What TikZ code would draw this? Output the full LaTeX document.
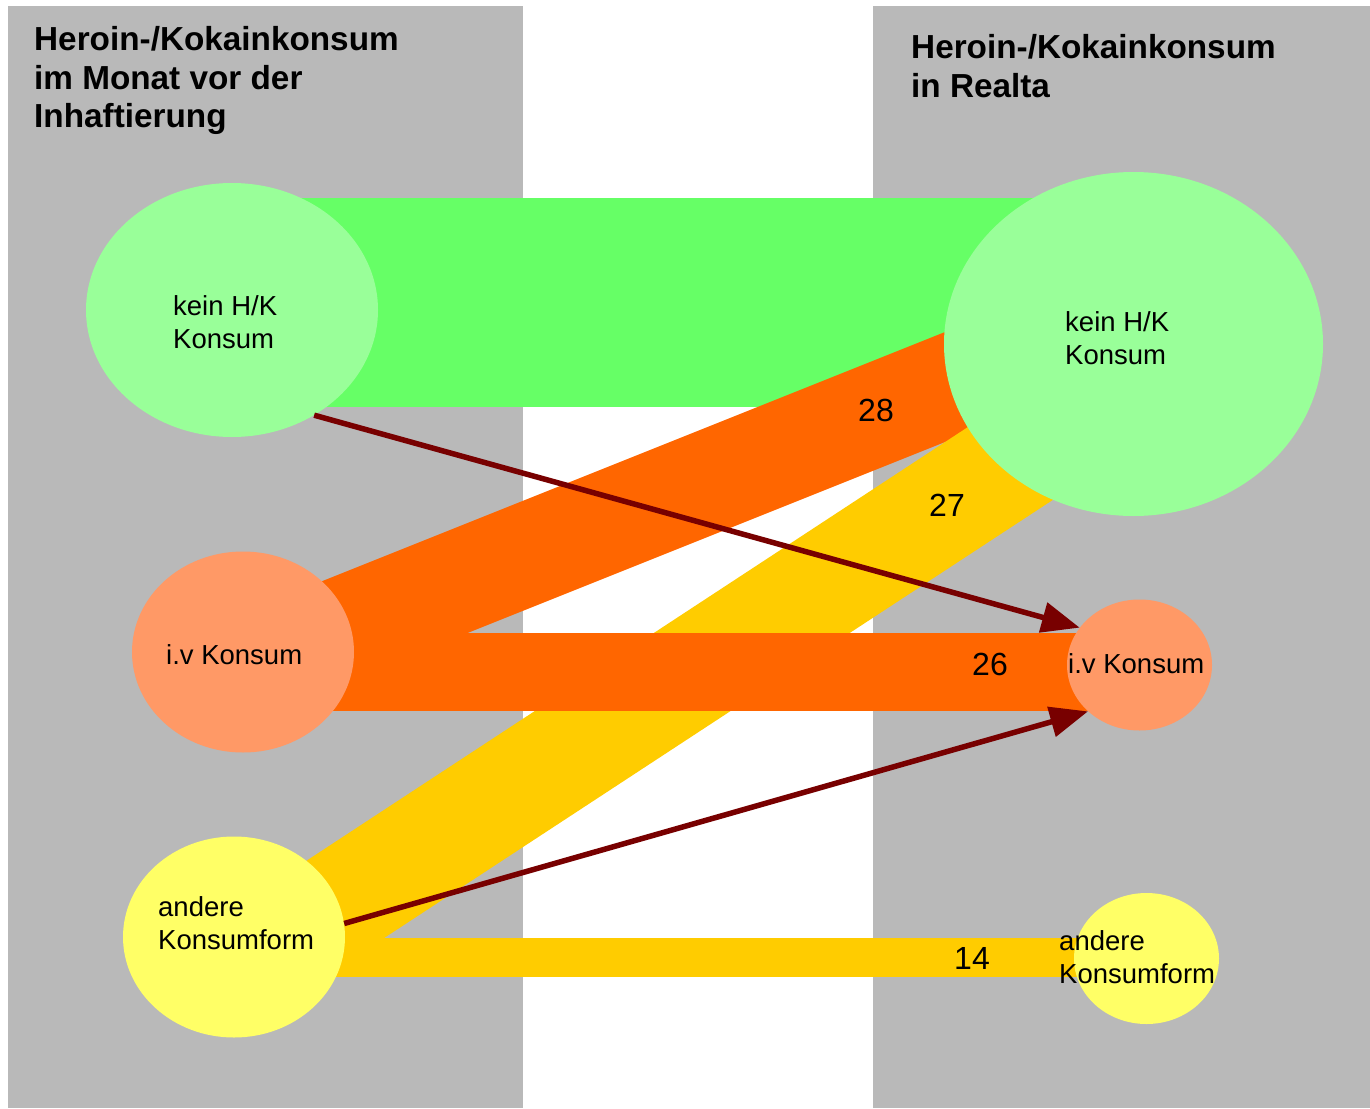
\documentclass[tikz,border=0pt]{standalone}
\usepackage{fontspec}
\setmainfont{Liberation Sans}
\usetikzlibrary{shapes.geometric,arrows.meta}
\definecolor{panelgray}{HTML}{B9B9B9}
\definecolor{ellgreen}{HTML}{99FF99}
\definecolor{bandgreen}{HTML}{66FF66}
\definecolor{bandorange}{HTML}{FF6600}
\definecolor{ellsalmon}{HTML}{FF9966}
\definecolor{bandyellow}{HTML}{FFCC00}
\definecolor{ellyellow}{HTML}{FFFF66}
\definecolor{arrred}{HTML}{780000}
\begin{document}
\begin{tikzpicture}[x=1pt,y=-1pt,
  ell/.style={ellipse, draw=none, inner sep=0pt},
  lbl/.style={anchor=west, align=left, inner sep=0pt, font=\fontsize{27.5}{33}\selectfont},
  num/.style={inner sep=0pt, font=\fontsize{32}{38}\selectfont},
  ttl/.style={anchor=north west, align=left, inner sep=0pt, font=\fontsize{33.3}{38.7}\selectfont\bfseries},
  flowarrow/.style={draw=arrred, line width=5.5pt, -{Triangle[length=38pt,width=30pt]}}]
\useasboundingbox (0,0) rectangle (1370,1108);
\fill[white] (0,0) rectangle (1370,1108);
% panels
\fill[panelgray] (8,6) rectangle (523,1108);
\fill[panelgray] (873,6) rectangle (1370,1108);
% flows
\fill[bandgreen] (290,198) rectangle (1040,407);
\fill[bandorange] (300,590) -- (1000,310) -- (1000,420) -- (320,692) -- cycle;
\fill[bandyellow] (300,865) -- (1000,406) -- (1100,469) -- (320,980) -- cycle;
\fill[bandorange] (300,633) rectangle (1100,711);
\fill[bandyellow] (300,938) rectangle (1110,977);
% nodes
\node[ell, fill=ellgreen, minimum width=292pt, minimum height=254pt] (L1) at (232,310) {};
\node[ell, fill=ellsalmon, minimum width=222pt, minimum height=201pt] (L2) at (243,652) {};
\node[ell, fill=ellyellow, minimum width=222pt, minimum height=201pt] (L3) at (234,937) {};
\node[ell, fill=ellgreen, minimum width=379pt, minimum height=344pt] (R1) at (1133.5,344) {};
\node[ell, fill=ellsalmon, minimum width=145pt, minimum height=131pt] (R2) at (1139.5,665) {};
\node[ell, fill=ellyellow, minimum width=145pt, minimum height=131pt] (R3) at (1146.5,958.5) {};
% arrows
\draw[flowarrow] (L1.-52) -- (R2.148);
\draw[flowarrow] (L3.7) -- (R2.222);
% labels
\node[ttl] (tl) at (34,26) {Heroin-/Kokainkonsum\\im Monat vor der\\Inhaftierung};
\node[ttl] (tr) at (911,34) {Heroin-/Kokainkonsum\\in Realta};
\node[lbl] (tL1) at (173,322) {kein H/K\\Konsum};
\node[lbl] (tR1) at (1065,338.5) {kein H/K\\Konsum};
\node[lbl] (tL2) at (166,655) {i.v Konsum};
\node[lbl] (tR2) at (1068,664) {i.v Konsum};
\node[lbl] (tL3) at (158,923.5) {andere\\Konsumform};
\node[lbl] (tR3) at (1059,957.5) {andere\\Konsumform};
\node[num] (n28) at (876,410) {28};
\node[num] (n27) at (947,505) {27};
\node[num] (n26) at (990,664) {26};
\node[num] (n14) at (972,958) {14};
\end{tikzpicture}
\end{document}
